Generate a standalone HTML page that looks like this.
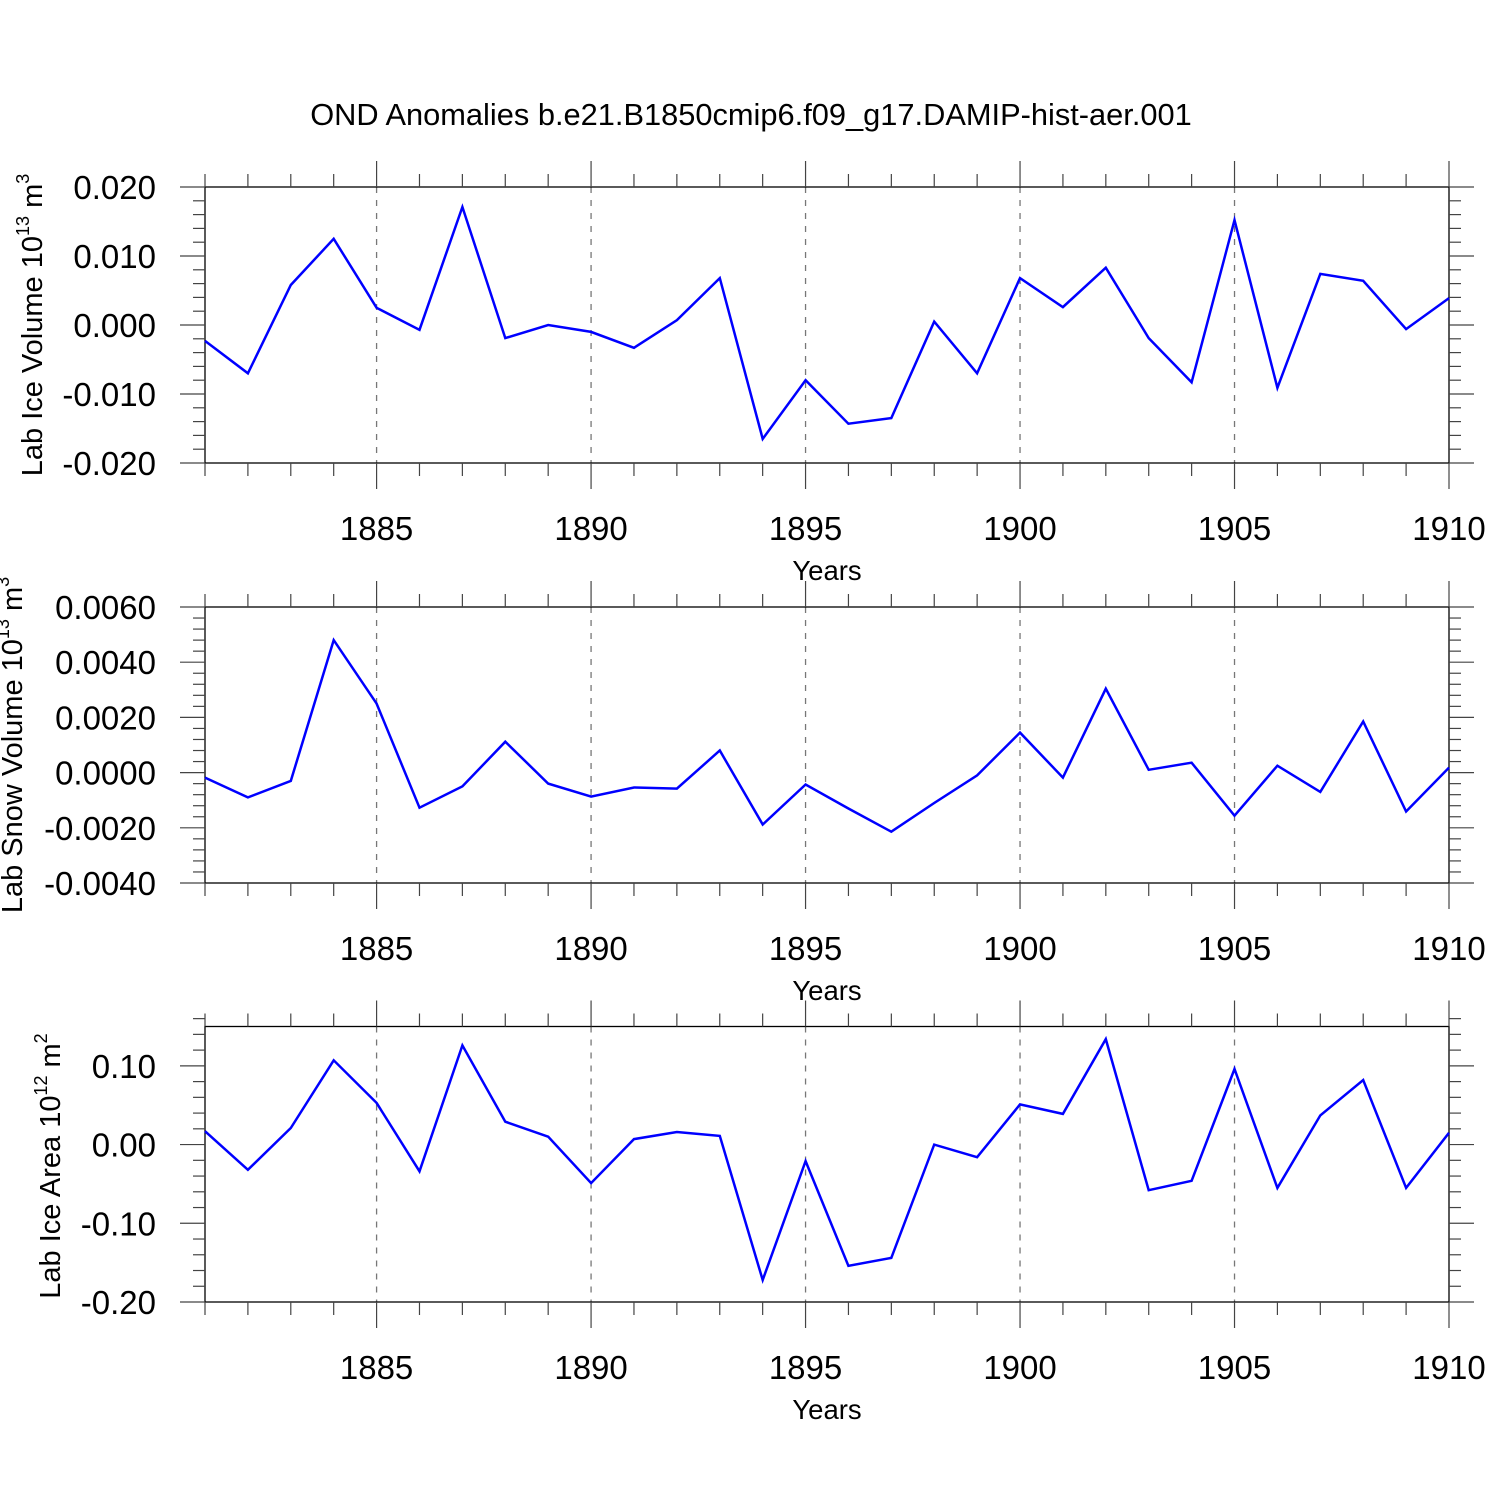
<!DOCTYPE html>
<html><head><meta charset="utf-8"><style>
html,body{margin:0;padding:0;background:#fff;}
svg{display:block;font-family:"Liberation Sans",sans-serif;}
</style></head><body>
<svg id="chart" width="1500" height="1500" viewBox="0 0 1500 1500" xmlns="http://www.w3.org/2000/svg">
<rect width="1500" height="1500" fill="#fff"/>
<text x="751" y="125" font-size="30.8" text-anchor="middle">OND Anomalies b.e21.B1850cmip6.f09_g17.DAMIP-hist-aer.001</text>
<text transform="translate(42,325) rotate(-90)" font-size="29" text-anchor="middle">Lab Ice Volume 10<tspan font-size="18" dy="-13">13</tspan><tspan dy="13"> m</tspan><tspan font-size="18" dy="-13">3</tspan></text>
<text transform="translate(22,745) rotate(-90)" font-size="29" text-anchor="middle">Lab Snow Volume 10<tspan font-size="18" dy="-13">13</tspan><tspan dy="13"> m</tspan><tspan font-size="18" dy="-13">3</tspan></text>
<text transform="translate(60,1166) rotate(-90)" font-size="29" text-anchor="middle">Lab Ice Area 10<tspan font-size="18" dy="-13">12</tspan><tspan dy="13"> m</tspan><tspan font-size="18" dy="-13">2</tspan></text>
</svg>
<script>
const years = [1881,1882,1883,1884,1885,1886,1887,1888,1889,1890,1891,1892,1893,1894,1895,1896,1897,1898,1899,1900,1901,1902,1903,1904,1905,1906,1907,1908,1909,1910];
const iceVolume = [-0.0023,-0.007,0.0058,0.0125,0.0025,-0.0007,0.0171,-0.0019,0.0,-0.001,-0.0033,0.0007,0.0068,-0.0165,-0.008,-0.0143,-0.0135,0.0005,-0.007,0.0068,0.0026,0.0083,-0.0019,-0.0083,0.0152,-0.0091,0.0074,0.0064,-0.0006,0.0039];
const snowVolume = [-0.00018,-0.0009,-0.0003,0.0048,0.0025,-0.00127,-0.0005,0.00112,-0.0004,-0.00087,-0.00054,-0.00058,0.0008,-0.00188,-0.00043,-0.0013,-0.00214,-0.0011,-0.0001,0.00145,-0.00018,0.00304,0.0001,0.00036,-0.00156,0.00025,-0.0007,0.00185,-0.00141,0.00018];
const iceArea = [0.017,-0.032,0.021,0.107,0.053,-0.034,0.126,0.029,0.01,-0.049,0.007,0.016,0.011,-0.172,-0.021,-0.154,-0.144,0.0,-0.016,0.051,0.039,0.134,-0.058,-0.046,0.096,-0.055,0.037,0.082,-0.055,0.015];
const xTicks = [1885,1890,1895,1900,1905,1910];
const ticks1 = ["0.020","0.010","0.000","-0.010","-0.020"];
const ticks2 = ["0.0060","0.0040","0.0020","0.0000","-0.0020","-0.0040"];
const ticks3 = ["0.10","0.00","-0.10","-0.20"];

const svg = document.getElementById('chart');
const NS = 'http://www.w3.org/2000/svg';
const X0 = 205, X1 = 1449, XMIN = 1881, XMAX = 1910;
function xs(v){ return X0 + (v - XMIN) / (XMAX - XMIN) * (X1 - X0); }
function mk(tag, attrs){ const e = document.createElementNS(NS, tag); for (const k in attrs) e.setAttribute(k, attrs[k]); svg.appendChild(e); return e; }

const panels = [
 {name:'ice-volume', data:iceVolume, ticks:ticks1, top:187, bot:463, ymin:-0.02, ymax:0.02, major:0.01, minor:0.002},
 {name:'snow-volume', data:snowVolume, ticks:ticks2, top:607, bot:883, ymin:-0.004, ymax:0.006, major:0.002, minor:0.0004},
 {name:'ice-area', data:iceArea, ticks:ticks3, top:1026.5, bot:1302, ymin:-0.2, ymax:0.15, major:0.1, minor:0.02}
];

panels.forEach(p => {
  const ys = v => p.bot - (v - p.ymin) / (p.ymax - p.ymin) * (p.bot - p.top);
  xTicks.slice(0, -1).forEach(t => {
    const g = mk('line', {x1:xs(t), x2:xs(t), y1:p.top, y2:p.bot, stroke:'#777', 'stroke-width':1.3, 'stroke-dasharray':'6,7'});
    
    
  });
  const fr = mk('rect', {x:X0, y:p.top, width:X1 - X0, height:p.bot - p.top, fill:'none', stroke:'#000', 'stroke-width':1.3});
  
  
  for (let yr = XMIN; yr <= XMAX; yr++) {
    const maj = yr % 5 === 0;
    const L = maj ? 26 : 13;
    const x = xs(yr);
    const t1 = mk('line', {x1:x, x2:x, y1:p.bot, y2:p.bot + L, stroke:'#444', 'stroke-width':1.2});
    
    
    const t2 = mk('line', {x1:x, x2:x, y1:p.top, y2:p.top - L, stroke:'#444', 'stroke-width':1.2});
    
    
  }
  xTicks.forEach(t => {
    const lb = mk('text', {x:xs(t), y:p.bot + 77, 'font-size':33, 'text-anchor':'middle'});
    lb.textContent = t;
    
    
  });
  const xt = mk('text', {x:827, y:p.bot + 117, 'font-size':27.5, 'text-anchor':'middle'});
  xt.textContent = 'Years';
  
  
  const nMin = Math.round((p.ymax - p.ymin) / p.minor);
  for (let i = 0; i <= nMin; i++) {
    const v = p.ymin + i * p.minor;
    const isMaj = Math.abs(v / p.major - Math.round(v / p.major)) < 1e-6;
    const L = isMaj ? 25 : 12;
    const y = ys(v);
    const a = mk('line', {x1:X0 - L, x2:X0, y1:y, y2:y, stroke:'#444', 'stroke-width':1.2});
    
    
    const b = mk('line', {x1:X1, x2:X1 + L, y1:y, y2:y, stroke:'#444', 'stroke-width':1.2});
    
    
  }
  p.ticks.forEach(s => {
    const v = parseFloat(s);
    const lb = mk('text', {x:156, y:ys(v) + 12, 'font-size':33, 'text-anchor':'end'});
    lb.textContent = s;
    
    
  });
  const pts = p.data.map((v, i) => xs(years[i]).toFixed(1) + ',' + ys(v).toFixed(1)).join(' ');
  const ln = mk('polyline', {points:pts, fill:'none', stroke:'#0000ff', 'stroke-width':2.5, 'stroke-linejoin':'miter'});
  
  
});
</script>
</body></html>
